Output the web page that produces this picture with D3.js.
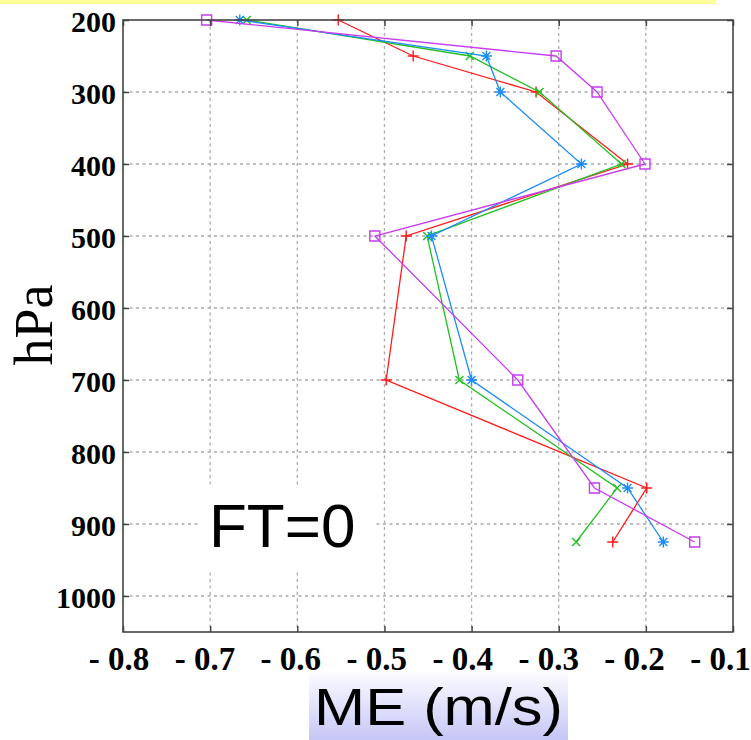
<!DOCTYPE html>
<html>
<head>
<meta charset="utf-8">
<script src="https://cdn.jsdelivr.net/npm/d3@7"></script>
<style>
  html, body { margin: 0; padding: 0; background: #ffffff; }
  svg { display: block; }
</style>
</head>
<body>
<svg id="chart" width="751" height="740"></svg>
<script>
// Pressure levels (hPa) of the verification profile
const levels = [200, 250, 300, 400, 500, 700, 850, 925];

// Mean error (m/s) at each level, one array per experiment
const seriesRed     = [-0.553, -0.467, -0.326, -0.221, -0.475, -0.498, -0.199, -0.238];
const seriesGreen   = [-0.658, -0.402, -0.322, -0.228, -0.451, -0.414, -0.233, -0.280];
const seriesBlue    = [-0.666, -0.383, -0.367, -0.274, -0.446, -0.400, -0.221, -0.180];
const seriesMagenta = [-0.704, -0.303, -0.256, -0.201, -0.511, -0.347, -0.259, -0.144];

// Axis ticks and their labels
const xTickValues = [-0.8, -0.7, -0.6, -0.5, -0.4, -0.3, -0.2, -0.1];
const xTickLabels = ["- 0.8", "- 0.7", "- 0.6", "- 0.5", "- 0.4", "- 0.3", "- 0.2", "- 0.1"];
const yTickValues = [200, 300, 400, 500, 600, 700, 800, 900, 1000];
const yTickLabels = ["200", "300", "400", "500", "600", "700", "800", "900", "1000"];

const xTitle = "ME (m/s)";
const yTitle = "hPa";
const panelLabel = "FT=0";

const svg = d3.select("#chart");

// Plot box
const plotLeft = 123, plotRight = 733, plotTop = 20, plotBottom = 632;

const x = d3.scaleLinear().domain([-0.8, -0.1]).range([plotLeft, plotRight]);
const y = d3.scaleLinear().domain([200, 1050]).range([plotTop, plotBottom]);
// tick labels sit on a slightly tighter spacing than the ticks themselves
const xLabelPos = d3.scaleLinear().domain([-0.8, -0.1]).range([118.5, 720]);

// highlight band along the top edge
svg.append("rect")
  .attr("x", 0).attr("y", 0).attr("width", 716).attr("height", 4)
  .attr("fill", "#ffff99");

// gradient behind the x-axis title
const defs = svg.append("defs");
const grad = defs.append("linearGradient")
  .attr("id", "titleGrad").attr("x1", 0).attr("y1", 0).attr("x2", 0).attr("y2", 1);
grad.append("stop").attr("offset", "0%").attr("stop-color", "#fbfbff");
grad.append("stop").attr("offset", "100%").attr("stop-color", "#c6c6f7");

svg.append("rect")
  .attr("x", 309).attr("y", 673).attr("width", 259).attr("height", 67)
  .attr("fill", "url(#titleGrad)");

// plot background
svg.append("rect")
  .attr("x", plotLeft).attr("y", plotTop)
  .attr("width", plotRight - plotLeft).attr("height", plotBottom - plotTop)
  .attr("fill", "#ffffff");

// dotted grid
const grid = svg.append("g")
  .attr("stroke", "#ababab").attr("stroke-width", 1.3).attr("stroke-dasharray", "3,3.5");
grid.selectAll("line.v")
  .data(xTickValues.slice(1, -1))
  .join("line").attr("class", "v")
  .attr("x1", d => x(d)).attr("x2", d => x(d))
  .attr("y1", plotTop).attr("y2", plotBottom);
grid.selectAll("line.h")
  .data(yTickValues.slice(1))
  .join("line").attr("class", "h")
  .attr("x1", plotLeft).attr("x2", plotRight)
  .attr("y1", d => y(d)).attr("y2", d => y(d));

// white patch carrying the forecast-time label
svg.append("rect")
  .attr("x", 200).attr("y", 488).attr("width", 175).attr("height", 82)
  .attr("fill", "#ffffff");
svg.append("text")
  .attr("x", 209).attr("y", 547)
  .attr("font-family", "Liberation Sans, Arial, sans-serif")
  .attr("font-size", 62)
  .attr("fill", "#000")
  .text(panelLabel);

// profiles
const series = [
  { values: seriesRed,     color: "#ff1a1a", marker: "plus" },
  { values: seriesGreen,   color: "#22c022", marker: "cross" },
  { values: seriesBlue,    color: "#1e8cf5", marker: "star" },
  { values: seriesMagenta, color: "#c83cf2", marker: "square" }
];

const line = d3.line().x(d => x(d.v)).y(d => y(d.p));

const markerPath = (type, s) => {
  const p = d3.path();
  const d = s * 0.72;
  if (type === "plus" || type === "star") {
    p.moveTo(-s, 0); p.lineTo(s, 0);
    p.moveTo(0, -s); p.lineTo(0, s);
  }
  if (type === "cross" || type === "star") {
    p.moveTo(-d, -d); p.lineTo(d, d);
    p.moveTo(-d, d); p.lineTo(d, -d);
  }
  if (type === "square") {
    p.rect(-s, -s, 2 * s, 2 * s);
  }
  return p.toString();
};

series.forEach(s => {
  const pts = levels.map((p, i) => ({ p, v: s.values[i] }));
  const g = svg.append("g");
  g.append("path")
    .datum(pts)
    .attr("d", line)
    .attr("fill", "none")
    .attr("stroke", s.color)
    .attr("stroke-width", 1.3);
  g.selectAll("path.mk")
    .data(pts)
    .join("path").attr("class", "mk")
    .attr("transform", d => `translate(${x(d.v)},${y(d.p)})`)
    .attr("d", markerPath(s.marker, s.marker === "square" ? 5 : 5.5))
    .attr("fill", "none")
    .attr("stroke", s.color)
    .attr("stroke-width", 1.4);
});

// box axes with inward ticks on all four sides
const axisColor = "#444444";
const styleAxis = g => {
  g.select(".domain").remove();
  g.selectAll(".tick line").attr("stroke", axisColor).attr("stroke-width", 1.5);
};

svg.append("g").attr("transform", `translate(0,${plotBottom})`)
  .call(d3.axisBottom(x).tickValues(xTickValues).tickSize(-6).tickFormat(""))
  .call(styleAxis);
svg.append("g").attr("transform", `translate(0,${plotTop})`)
  .call(d3.axisTop(x).tickValues(xTickValues).tickSize(-6).tickFormat(""))
  .call(styleAxis);
svg.append("g").attr("transform", `translate(${plotRight},0)`)
  .call(d3.axisRight(y).tickValues(yTickValues).tickSize(-6).tickFormat(""))
  .call(styleAxis);

const yAxis = svg.append("g").attr("transform", `translate(${plotLeft},0)`)
  .call(d3.axisLeft(y).tickValues(yTickValues).tickSize(-6).tickPadding(7)
    .tickFormat((d, i) => yTickLabels[i]))
  .call(styleAxis);
yAxis.selectAll(".tick text")
  .attr("font-family", "Liberation Serif, Times New Roman, serif")
  .attr("font-weight", "bold")
  .attr("font-size", 30)
  .attr("fill", "#000")
  .attr("dy", "0.38em");

const xLabels = svg.append("g").attr("transform", `translate(0,${plotBottom})`)
  .call(d3.axisBottom(xLabelPos).tickValues(xTickValues).tickSize(0).tickPadding(0)
    .tickFormat((d, i) => xTickLabels[i]));
xLabels.select(".domain").remove();
xLabels.selectAll(".tick text")
  .attr("font-family", "Liberation Serif, Times New Roman, serif")
  .attr("font-weight", "bold")
  .attr("font-size", 33)
  .attr("fill", "#000")
  .attr("dy", null)
  .attr("y", 38);

// frame
svg.append("rect")
  .attr("x", plotLeft).attr("y", plotTop)
  .attr("width", plotRight - plotLeft).attr("height", plotBottom - plotTop)
  .attr("fill", "none").attr("stroke", axisColor).attr("stroke-width", 1.6);

// titles
svg.append("text")
  .attr("x", 438.5).attr("y", 725)
  .attr("text-anchor", "middle")
  .attr("font-family", "Liberation Sans, Arial, sans-serif")
  .attr("font-size", 51)
  .attr("textLength", 249)
  .attr("lengthAdjust", "spacingAndGlyphs")
  .attr("fill", "#000")
  .text(xTitle);

svg.append("text")
  .attr("transform", "translate(52,325) rotate(-90)")
  .attr("text-anchor", "middle")
  .attr("font-family", "Liberation Serif, Times New Roman, serif")
  .attr("font-size", 54)
  .attr("fill", "#000")
  .text(yTitle);
</script>
</body>
</html>
